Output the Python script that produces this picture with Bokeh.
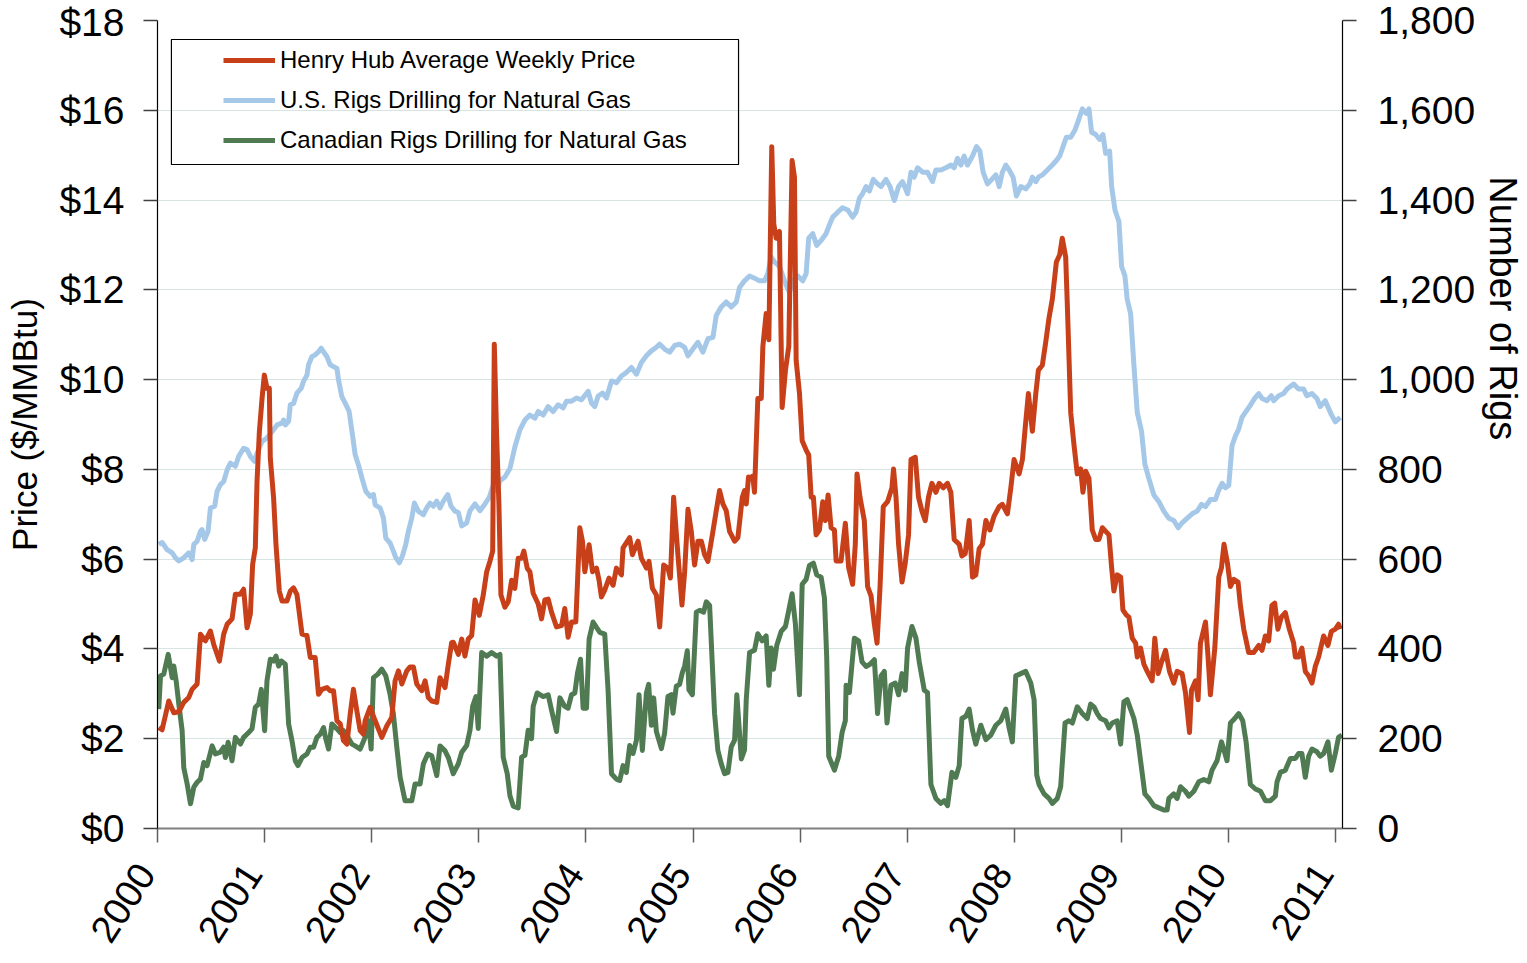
import math
from bokeh.plotting import figure
from bokeh.models import (Range1d, LinearAxis, FixedTicker, NumeralTickFormatter,
                          Legend, LegendItem, BoxAnnotation, ColumnDataSource)
from bokeh.embed import file_html
from bokeh.resources import INLINE

# ---------------- data (decimal year, value) ----------------
HENRY_HUB = [  # $/MMBtu
    (2000.012, 2.25), (2000.043, 2.20), (2000.105, 2.84), (2000.152, 2.58), (2000.199, 2.60),
    (2000.245, 2.81), (2000.292, 2.92), (2000.323, 3.10), (2000.370, 3.22), (2000.401, 4.33),
    (2000.447, 4.18), (2000.494, 4.40), (2000.525, 4.10), (2000.578, 3.73), (2000.618, 4.33),
    (2000.650, 4.55), (2000.696, 4.67), (2000.727, 5.22), (2000.774, 5.22), (2000.804, 5.33),
    (2000.836, 4.47), (2000.867, 4.78), (2000.888, 5.88), (2000.913, 6.25), (2000.929, 7.73),
    (2000.951, 8.84), (2000.976, 9.58), (2000.997, 10.10), (2001.022, 9.81), (2001.044, 9.81),
    (2001.053, 8.25), (2001.084, 7.36), (2001.106, 6.33), (2001.137, 5.29), (2001.162, 5.07),
    (2001.209, 5.07), (2001.240, 5.29), (2001.270, 5.36), (2001.302, 5.21), (2001.349, 4.33),
    (2001.395, 4.30), (2001.426, 3.81), (2001.472, 3.81), (2001.503, 2.99), (2001.535, 3.10),
    (2001.582, 3.14), (2001.612, 3.07), (2001.643, 3.07), (2001.675, 2.40), (2001.706, 2.33),
    (2001.736, 1.96), (2001.768, 1.88), (2001.799, 2.55), (2001.829, 3.10), (2001.861, 2.62),
    (2001.892, 2.18), (2001.923, 2.10), (2001.938, 2.40), (2001.985, 2.70), (2002.032, 2.40),
    (2002.094, 2.03), (2002.141, 2.29), (2002.187, 2.47), (2002.218, 3.29), (2002.249, 3.51),
    (2002.281, 3.22), (2002.327, 3.51), (2002.358, 3.60), (2002.389, 3.60), (2002.420, 3.22),
    (2002.467, 3.07), (2002.498, 3.29), (2002.528, 2.92), (2002.560, 2.84), (2002.607, 2.81),
    (2002.637, 3.36), (2002.684, 3.14), (2002.715, 3.66), (2002.746, 4.14), (2002.761, 4.15),
    (2002.808, 3.88), (2002.840, 4.22), (2002.870, 3.84), (2002.901, 4.22), (2002.933, 4.30),
    (2002.964, 5.09), (2003.004, 4.75), (2003.041, 5.20), (2003.073, 5.72), (2003.103, 5.95),
    (2003.129, 6.18), (2003.144, 10.79), (2003.166, 8.73), (2003.187, 7.23), (2003.206, 5.20),
    (2003.243, 4.93), (2003.274, 5.05), (2003.306, 5.53), (2003.336, 5.35), (2003.367, 6.02),
    (2003.399, 6.02), (2003.420, 6.18), (2003.451, 5.80), (2003.476, 5.72), (2003.507, 5.24),
    (2003.554, 5.00), (2003.585, 4.67), (2003.616, 5.09), (2003.647, 5.11), (2003.678, 4.82),
    (2003.725, 4.49), (2003.772, 4.52), (2003.802, 4.90), (2003.833, 4.26), (2003.865, 4.60),
    (2003.905, 4.60), (2003.942, 6.70), (2003.967, 6.40), (2003.989, 5.72), (2004.029, 6.32),
    (2004.061, 5.72), (2004.098, 5.80), (2004.122, 5.53), (2004.144, 5.16), (2004.175, 5.31),
    (2004.215, 5.58), (2004.253, 5.42), (2004.284, 5.80), (2004.331, 5.65), (2004.346, 6.25),
    (2004.408, 6.48), (2004.433, 6.10), (2004.486, 6.40), (2004.517, 6.02), (2004.564, 5.80),
    (2004.588, 5.95), (2004.620, 5.35), (2004.657, 5.20), (2004.688, 4.49), (2004.725, 5.87),
    (2004.765, 5.80), (2004.788, 5.58), (2004.818, 7.38), (2004.858, 6.10), (2004.896, 4.98),
    (2004.921, 5.72), (2004.952, 7.11), (2004.983, 6.62), (2005.014, 5.87), (2005.045, 6.40),
    (2005.077, 6.40), (2005.107, 6.10), (2005.138, 5.95), (2005.185, 6.62), (2005.216, 7.08),
    (2005.247, 7.53), (2005.278, 7.23), (2005.309, 7.08), (2005.340, 6.62), (2005.387, 6.40),
    (2005.418, 6.48), (2005.459, 7.38), (2005.480, 7.53), (2005.496, 7.23), (2005.517, 7.83),
    (2005.527, 7.80), (2005.557, 7.85), (2005.573, 7.49), (2005.604, 9.58), (2005.636, 9.58),
    (2005.651, 10.74), (2005.682, 11.47), (2005.707, 10.89), (2005.734, 15.19), (2005.753, 13.47),
    (2005.775, 13.15), (2005.806, 13.30), (2005.831, 9.38), (2005.862, 10.21), (2005.893, 10.74),
    (2005.924, 14.88), (2005.946, 14.51), (2005.962, 10.42), (2005.993, 9.69), (2006.018, 8.64),
    (2006.055, 8.43), (2006.079, 8.32), (2006.102, 7.38), (2006.123, 7.38), (2006.148, 6.54),
    (2006.179, 6.65), (2006.210, 7.28), (2006.235, 6.86), (2006.260, 7.43), (2006.288, 6.70),
    (2006.319, 6.65), (2006.335, 5.96), (2006.381, 5.96), (2006.421, 6.80), (2006.452, 5.81),
    (2006.489, 5.44), (2006.514, 6.33), (2006.530, 7.90), (2006.558, 7.38), (2006.598, 6.86),
    (2006.629, 5.39), (2006.661, 5.18), (2006.692, 4.55), (2006.717, 4.13), (2006.745, 5.39),
    (2006.775, 7.17), (2006.815, 7.28), (2006.856, 7.59), (2006.871, 8.01), (2006.894, 7.38),
    (2006.918, 6.33), (2006.950, 5.49), (2006.980, 5.91), (2007.011, 6.54), (2007.034, 8.22),
    (2007.074, 8.27), (2007.104, 7.38), (2007.136, 7.07), (2007.167, 6.86), (2007.197, 7.38),
    (2007.229, 7.69), (2007.266, 7.49), (2007.297, 7.69), (2007.335, 7.59), (2007.375, 7.69),
    (2007.406, 7.49), (2007.437, 6.44), (2007.484, 6.33), (2007.509, 6.07), (2007.540, 6.12),
    (2007.577, 6.86), (2007.608, 5.60), (2007.639, 5.65), (2007.670, 6.23), (2007.701, 6.33),
    (2007.733, 6.86), (2007.770, 6.65), (2007.810, 6.96), (2007.857, 7.17), (2007.887, 7.22),
    (2007.934, 7.01), (2007.966, 7.59), (2007.996, 8.22), (2008.043, 7.90), (2008.074, 8.22),
    (2008.099, 8.90), (2008.130, 9.69), (2008.167, 8.85), (2008.199, 9.69), (2008.223, 10.21),
    (2008.260, 10.32), (2008.292, 10.84), (2008.322, 11.37), (2008.353, 11.79), (2008.391, 12.62),
    (2008.422, 12.78), (2008.446, 13.15), (2008.478, 12.73), (2008.493, 11.68), (2008.525, 9.27),
    (2008.556, 8.53), (2008.586, 7.90), (2008.618, 8.01), (2008.639, 7.49), (2008.665, 7.96),
    (2008.695, 7.80), (2008.726, 6.65), (2008.758, 6.44), (2008.789, 6.44), (2008.820, 6.70),
    (2008.882, 6.54), (2008.907, 5.81), (2008.928, 5.29), (2008.959, 5.65), (2008.991, 5.60),
    (2009.012, 4.87), (2009.043, 4.76), (2009.068, 4.71), (2009.099, 4.24), (2009.131, 4.13),
    (2009.146, 3.82), (2009.177, 4.02), (2009.208, 3.66), (2009.239, 3.50), (2009.285, 3.29),
    (2009.310, 4.24), (2009.341, 3.45), (2009.373, 3.71), (2009.410, 3.97), (2009.447, 3.50),
    (2009.487, 3.24), (2009.518, 3.50), (2009.565, 3.45), (2009.596, 3.03), (2009.634, 2.14),
    (2009.652, 3.08), (2009.690, 3.29), (2009.714, 2.87), (2009.736, 4.13), (2009.783, 4.60),
    (2009.807, 3.82), (2009.829, 2.98), (2009.870, 4.02), (2009.907, 5.60), (2009.932, 5.81),
    (2009.956, 6.33), (2009.988, 5.91), (2010.016, 5.39), (2010.047, 5.55), (2010.087, 5.49),
    (2010.109, 4.97), (2010.140, 4.44), (2010.186, 3.92), (2010.233, 3.92), (2010.280, 4.08),
    (2010.311, 3.97), (2010.342, 4.29), (2010.373, 4.18), (2010.403, 4.97), (2010.429, 5.02),
    (2010.459, 4.44), (2010.491, 4.71), (2010.528, 4.81), (2010.566, 4.44), (2010.606, 4.13),
    (2010.622, 3.82), (2010.652, 3.82), (2010.683, 4.02), (2010.715, 3.50), (2010.746, 3.40),
    (2010.777, 3.24), (2010.808, 3.61), (2010.839, 3.82), (2010.886, 4.29), (2010.926, 4.08),
    (2010.958, 4.39), (2010.995, 4.44), (2011.025, 4.55), (2011.041, 4.44),
]

US_RIGS = [  # number of rigs
    (2000.012, 633), (2000.043, 637), (2000.090, 621), (2000.137, 614), (2000.168, 603),
    (2000.199, 596), (2000.245, 603), (2000.292, 614), (2000.323, 599), (2000.339, 633),
    (2000.370, 640), (2000.401, 662), (2000.416, 666), (2000.441, 644), (2000.472, 662),
    (2000.494, 714), (2000.534, 718), (2000.556, 751), (2000.587, 766), (2000.618, 773),
    (2000.650, 799), (2000.680, 814), (2000.727, 807), (2000.758, 829), (2000.804, 847),
    (2000.836, 844), (2000.867, 829), (2000.904, 818), (2000.929, 836), (2000.976, 862),
    (2001.022, 870), (2001.069, 884), (2001.116, 899), (2001.162, 903), (2001.177, 910),
    (2001.193, 899), (2001.224, 907), (2001.240, 944), (2001.270, 947), (2001.302, 970),
    (2001.342, 981), (2001.363, 996), (2001.395, 1010), (2001.410, 1033), (2001.441, 1051),
    (2001.472, 1055), (2001.503, 1062), (2001.528, 1070), (2001.550, 1062), (2001.582, 1051),
    (2001.612, 1033), (2001.643, 1029), (2001.675, 1025), (2001.690, 999), (2001.721, 962),
    (2001.759, 944), (2001.789, 929), (2001.820, 877), (2001.845, 833), (2001.876, 810),
    (2001.908, 781), (2001.945, 751), (2001.985, 740), (2002.016, 744), (2002.032, 721),
    (2002.078, 714), (2002.109, 692), (2002.131, 647), (2002.171, 636), (2002.202, 618),
    (2002.225, 603), (2002.258, 592), (2002.286, 607), (2002.318, 633), (2002.342, 662),
    (2002.374, 692), (2002.398, 725), (2002.435, 707), (2002.482, 699), (2002.513, 714),
    (2002.544, 725), (2002.575, 718), (2002.607, 729), (2002.637, 714), (2002.668, 729),
    (2002.709, 744), (2002.740, 718), (2002.777, 707), (2002.808, 704), (2002.840, 674),
    (2002.886, 681), (2002.917, 708), (2002.964, 723), (2003.010, 708), (2003.057, 723),
    (2003.097, 738), (2003.134, 764), (2003.166, 753), (2003.197, 775), (2003.243, 783),
    (2003.290, 802), (2003.336, 850), (2003.383, 888), (2003.430, 910), (2003.476, 921),
    (2003.523, 914), (2003.554, 929), (2003.600, 921), (2003.647, 940), (2003.693, 929),
    (2003.740, 944), (2003.787, 937), (2003.818, 952), (2003.865, 952), (2003.911, 959),
    (2003.958, 955), (2004.020, 974), (2004.051, 948), (2004.082, 940), (2004.113, 963),
    (2004.154, 970), (2004.191, 959), (2004.238, 997), (2004.284, 993), (2004.331, 1008),
    (2004.377, 1016), (2004.424, 1027), (2004.471, 1012), (2004.517, 1038), (2004.564, 1053),
    (2004.610, 1064), (2004.657, 1072), (2004.688, 1079), (2004.734, 1068), (2004.781, 1061),
    (2004.828, 1076), (2004.874, 1079), (2004.921, 1072), (2004.952, 1053), (2004.998, 1068),
    (2005.045, 1083), (2005.091, 1061), (2005.138, 1091), (2005.185, 1094), (2005.216, 1143),
    (2005.263, 1162), (2005.309, 1173), (2005.356, 1162), (2005.403, 1173), (2005.433, 1205),
    (2005.480, 1220), (2005.527, 1231), (2005.573, 1226), (2005.620, 1220), (2005.666, 1220),
    (2005.697, 1236), (2005.729, 1273), (2005.760, 1262), (2005.806, 1252), (2005.837, 1231),
    (2005.869, 1210), (2005.899, 1194), (2005.930, 1220), (2005.977, 1231), (2006.023, 1220),
    (2006.055, 1236), (2006.079, 1315), (2006.117, 1325), (2006.154, 1299), (2006.195, 1310),
    (2006.241, 1325), (2006.266, 1341), (2006.303, 1362), (2006.350, 1373), (2006.396, 1383),
    (2006.443, 1378), (2006.489, 1362), (2006.521, 1373), (2006.552, 1404), (2006.582, 1414),
    (2006.614, 1430), (2006.645, 1420), (2006.682, 1446), (2006.722, 1436), (2006.754, 1430),
    (2006.800, 1446), (2006.838, 1430), (2006.878, 1399), (2006.918, 1430), (2006.955, 1441),
    (2007.002, 1414), (2007.034, 1462), (2007.064, 1451), (2007.095, 1472), (2007.142, 1462),
    (2007.188, 1462), (2007.235, 1441), (2007.266, 1467), (2007.313, 1467), (2007.360, 1472),
    (2007.406, 1478), (2007.437, 1472), (2007.468, 1493), (2007.500, 1478), (2007.530, 1498),
    (2007.561, 1478), (2007.608, 1498), (2007.645, 1519), (2007.677, 1509), (2007.707, 1462),
    (2007.748, 1436), (2007.788, 1446), (2007.826, 1456), (2007.857, 1430), (2007.887, 1462),
    (2007.919, 1478), (2007.950, 1467), (2007.987, 1451), (2008.018, 1409), (2008.059, 1430),
    (2008.105, 1425), (2008.143, 1436), (2008.167, 1451), (2008.199, 1441), (2008.223, 1451),
    (2008.260, 1456), (2008.307, 1467), (2008.353, 1478), (2008.391, 1488), (2008.422, 1498),
    (2008.453, 1519), (2008.484, 1540), (2008.525, 1540), (2008.565, 1556), (2008.596, 1577),
    (2008.633, 1603), (2008.670, 1593), (2008.695, 1603), (2008.720, 1551), (2008.758, 1546),
    (2008.795, 1535), (2008.826, 1546), (2008.851, 1504), (2008.888, 1509), (2008.907, 1430),
    (2008.938, 1378), (2008.975, 1352), (2009.000, 1252), (2009.031, 1231), (2009.052, 1179),
    (2009.084, 1147), (2009.115, 1032), (2009.146, 927), (2009.186, 885), (2009.217, 812),
    (2009.254, 780), (2009.301, 743), (2009.348, 728), (2009.394, 707), (2009.441, 691),
    (2009.487, 686), (2009.528, 670), (2009.565, 681), (2009.611, 691), (2009.658, 701),
    (2009.705, 707), (2009.746, 722), (2009.783, 717), (2009.829, 733), (2009.876, 733),
    (2009.907, 754), (2009.938, 769), (2009.970, 759), (2010.000, 764), (2010.031, 853),
    (2010.062, 874), (2010.093, 890), (2010.124, 916), (2010.155, 927), (2010.202, 943),
    (2010.242, 958), (2010.280, 969), (2010.311, 958), (2010.357, 953), (2010.398, 964),
    (2010.420, 953), (2010.466, 964), (2010.513, 969), (2010.544, 979), (2010.606, 990),
    (2010.652, 979), (2010.699, 979), (2010.730, 964), (2010.777, 969), (2010.823, 958),
    (2010.854, 940), (2010.901, 953), (2010.958, 922), (2010.995, 906), (2011.041, 916),
]

CANADA_RIGS = [  # number of rigs
    (2000.012, 266), (2000.028, 340), (2000.059, 344), (2000.100, 388), (2000.121, 359),
    (2000.137, 336), (2000.152, 362), (2000.174, 329), (2000.199, 277), (2000.230, 218),
    (2000.245, 136), (2000.277, 99), (2000.308, 55), (2000.339, 92), (2000.370, 103),
    (2000.401, 110), (2000.432, 147), (2000.463, 140), (2000.510, 184), (2000.541, 166),
    (2000.587, 170), (2000.618, 181), (2000.634, 158), (2000.659, 192), (2000.696, 151),
    (2000.727, 203), (2000.774, 188), (2000.804, 203), (2000.851, 214), (2000.882, 222),
    (2000.913, 270), (2000.944, 277), (2000.969, 310), (2001.000, 218), (2001.022, 329),
    (2001.053, 377), (2001.084, 373), (2001.106, 384), (2001.131, 362), (2001.156, 373),
    (2001.193, 366), (2001.224, 233), (2001.255, 196), (2001.286, 151), (2001.311, 140),
    (2001.349, 158), (2001.395, 166), (2001.426, 181), (2001.457, 181), (2001.488, 203),
    (2001.519, 210), (2001.550, 225), (2001.572, 199), (2001.597, 177), (2001.628, 233),
    (2001.675, 222), (2001.706, 214), (2001.736, 218), (2001.768, 207), (2001.815, 188),
    (2001.845, 184), (2001.892, 177), (2001.938, 203), (2001.969, 240), (2001.994, 177),
    (2002.016, 336), (2002.057, 344), (2002.094, 355), (2002.131, 340), (2002.171, 299),
    (2002.202, 255), (2002.234, 181), (2002.265, 114), (2002.311, 62), (2002.374, 62),
    (2002.404, 99), (2002.451, 99), (2002.482, 144), (2002.523, 166), (2002.560, 162),
    (2002.607, 118), (2002.637, 184), (2002.684, 173), (2002.715, 158), (2002.761, 122),
    (2002.808, 144), (2002.840, 170), (2002.886, 185), (2002.917, 219), (2002.942, 272),
    (2002.973, 294), (2002.994, 223), (2003.026, 392), (2003.073, 384), (2003.119, 392),
    (2003.166, 384), (2003.197, 388), (2003.227, 159), (2003.265, 122), (2003.290, 73),
    (2003.321, 50), (2003.367, 46), (2003.399, 159), (2003.430, 163), (2003.460, 219),
    (2003.492, 200), (2003.507, 272), (2003.544, 302), (2003.600, 294), (2003.647, 298),
    (2003.678, 264), (2003.725, 216), (2003.756, 291), (2003.802, 272), (2003.833, 268),
    (2003.865, 298), (2003.896, 302), (2003.921, 347), (2003.949, 377), (2003.973, 268),
    (2004.005, 268), (2004.029, 422), (2004.066, 460), (2004.098, 448), (2004.129, 437),
    (2004.175, 433), (2004.206, 309), (2004.238, 122), (2004.284, 110), (2004.315, 107),
    (2004.346, 140), (2004.377, 125), (2004.408, 185), (2004.439, 167), (2004.471, 197),
    (2004.495, 298), (2004.526, 174), (2004.564, 302), (2004.585, 321), (2004.610, 230),
    (2004.632, 291), (2004.657, 216), (2004.704, 178), (2004.734, 212), (2004.765, 294),
    (2004.797, 298), (2004.812, 257), (2004.843, 317), (2004.874, 321), (2004.899, 347),
    (2004.921, 362), (2004.946, 396), (2004.961, 309), (2004.993, 298), (2005.030, 482),
    (2005.061, 486), (2005.098, 482), (2005.123, 505), (2005.154, 497), (2005.200, 257),
    (2005.231, 174), (2005.263, 144), (2005.294, 122), (2005.325, 125), (2005.356, 182),
    (2005.387, 197), (2005.408, 298), (2005.450, 155), (2005.480, 175), (2005.496, 287),
    (2005.527, 392), (2005.573, 397), (2005.604, 434), (2005.645, 418), (2005.682, 429),
    (2005.707, 319), (2005.729, 402), (2005.750, 355), (2005.781, 408), (2005.822, 439),
    (2005.862, 450), (2005.893, 486), (2005.924, 523), (2005.955, 455), (2005.993, 298),
    (2006.018, 544), (2006.055, 555), (2006.086, 586), (2006.123, 591), (2006.154, 565),
    (2006.195, 560), (2006.226, 513), (2006.247, 382), (2006.266, 161), (2006.319, 130),
    (2006.359, 161), (2006.391, 214), (2006.421, 240), (2006.428, 319), (2006.459, 303),
    (2006.505, 424), (2006.545, 418), (2006.577, 371), (2006.614, 361), (2006.651, 366),
    (2006.692, 376), (2006.722, 256), (2006.754, 340), (2006.785, 350), (2006.810, 235),
    (2006.847, 319), (2006.887, 324), (2006.918, 298), (2006.950, 345), (2006.980, 308),
    (2007.002, 402), (2007.043, 450), (2007.080, 424), (2007.111, 371), (2007.158, 308),
    (2007.188, 303), (2007.220, 98), (2007.266, 67), (2007.313, 56), (2007.344, 62),
    (2007.375, 51), (2007.416, 125), (2007.453, 114), (2007.484, 140), (2007.509, 245),
    (2007.546, 250), (2007.577, 266), (2007.608, 219), (2007.639, 188), (2007.686, 230),
    (2007.733, 198), (2007.779, 208), (2007.826, 230), (2007.872, 240), (2007.919, 266),
    (2007.950, 224), (2007.980, 193), (2008.012, 340), (2008.059, 345), (2008.105, 350),
    (2008.152, 324), (2008.183, 287), (2008.208, 119), (2008.229, 98), (2008.276, 77),
    (2008.322, 67), (2008.353, 56), (2008.400, 67), (2008.431, 93), (2008.472, 235),
    (2008.509, 240), (2008.540, 235), (2008.586, 271), (2008.633, 256), (2008.679, 245),
    (2008.711, 277), (2008.742, 271), (2008.773, 256), (2008.804, 245), (2008.851, 240),
    (2008.882, 224), (2008.912, 235), (2008.959, 240), (2008.991, 188), (2009.021, 282),
    (2009.052, 287), (2009.084, 266), (2009.115, 245), (2009.146, 208), (2009.177, 151),
    (2009.217, 77), (2009.254, 67), (2009.301, 51), (2009.348, 46), (2009.394, 41),
    (2009.425, 41), (2009.441, 67), (2009.487, 77), (2009.518, 67), (2009.550, 93),
    (2009.596, 83), (2009.627, 72), (2009.674, 83), (2009.720, 104), (2009.767, 109),
    (2009.814, 104), (2009.844, 130), (2009.891, 151), (2009.932, 193), (2009.953, 177),
    (2009.984, 151), (2010.016, 235), (2010.056, 245), (2010.093, 256), (2010.131, 240),
    (2010.162, 193), (2010.202, 98), (2010.249, 88), (2010.296, 83), (2010.342, 62),
    (2010.389, 62), (2010.435, 72), (2010.451, 104), (2010.482, 125), (2010.528, 130),
    (2010.575, 156), (2010.622, 156), (2010.652, 167), (2010.683, 167), (2010.715, 114),
    (2010.746, 161), (2010.777, 177), (2010.823, 171), (2010.854, 161), (2010.886, 167),
    (2010.926, 193), (2010.958, 130), (2010.995, 167), (2011.025, 203), (2011.056, 208),
]

SERIES_NAMES = ["Henry Hub Average Weekly Price",
                "U.S. Rigs Drilling for Natural Gas",
                "Canadian Rigs Drilling for Natural Gas"]
YEAR_TICKS = list(range(2000, 2012))
PRICE_TICKS = [0, 2, 4, 6, 8, 10, 12, 14, 16, 18]
RIG_TICKS = [0, 200, 400, 600, 800, 1000, 1200, 1400, 1600, 1800]
LEFT_TITLE = "Price ($/MMBtu)"
RIGHT_TITLE = "Number of Rigs"

# ---------------- styling / layout ----------------
FONT = "Liberation Sans"
RED = "#C8401A"
BLUE = "#A6C8E8"
GREEN = "#4F7A52"
GRID = "#D6E4E4"
LW = 5

W, H = 1527, 963
B_LEFT, B_RIGHT, B_TOP, B_BOTTOM = 157, 183, 20, 135
AXIS_Y = H - B_BOTTOM
PX_PER_DOLLAR = (AXIS_Y - B_TOP) / 18.0
# the reference's right-axis title sits above the axis centre; trailing
# no-break spaces shift the centred title upward by the same amount
RIGHT_TITLE_PAD = "\u00a0" * 22
# trailing no-break spaces slide each rotated year label down-left, so that
# the label ends just left of its tick as in the reference
YEAR_PAD = "\u00a0" * 2


def src(pairs):
    return ColumnDataSource(dict(x=[a for a, _ in pairs], y=[b for _, b in pairs]))


p = figure(width=W, height=H, output_backend="svg", toolbar_location=None,
           x_range=Range1d(2000, 2011.062), y_range=Range1d(0, 18),
           min_border_left=B_LEFT, min_border_right=B_RIGHT,
           min_border_top=B_TOP, min_border_bottom=B_BOTTOM)
p.outline_line_color = None
p.background_fill_color = "white"
p.border_fill_color = "white"
p.extra_y_ranges = {"rigs": Range1d(0, 1800)}

# lines
r_us = p.line("x", "y", source=src(US_RIGS), y_range_name="rigs",
              line_color=BLUE, line_width=LW, line_join="round")
r_ca = p.line("x", "y", source=src(CANADA_RIGS), y_range_name="rigs",
              line_color=GREEN, line_width=LW, line_join="round")
r_hh = p.line("x", "y", source=src(HENRY_HUB),
              line_color=RED, line_width=LW, line_join="round")

# grid
p.xgrid.visible = False
p.ygrid.ticker = FixedTicker(ticks=PRICE_TICKS)
p.ygrid.grid_line_color = GRID
p.ygrid.grid_line_width = 1.2

# x axis
xa = p.xaxis[0]
xa.ticker = FixedTicker(ticks=YEAR_TICKS)
xa.major_label_overrides = {t: str(t) + YEAR_PAD for t in YEAR_TICKS}
xa.major_label_orientation = math.radians(57)
xa.major_label_text_font = FONT
xa.major_label_text_font_size = "38px"
xa.major_label_text_color = "black"
xa.major_label_standoff = 7
xa.axis_line_color = "#808080"
xa.axis_line_width = 2
xa.major_tick_line_color = "#606060"
xa.major_tick_line_width = 1.5
xa.major_tick_out = 14
xa.major_tick_in = 0
xa.minor_tick_line_color = None

# left axis
ya = p.yaxis[0]
ya.ticker = FixedTicker(ticks=PRICE_TICKS)
ya.formatter = NumeralTickFormatter(format="$0")
ya.axis_label = LEFT_TITLE

# right axis
yr = LinearAxis(y_range_name="rigs", ticker=FixedTicker(ticks=RIG_TICKS),
                formatter=NumeralTickFormatter(format="0,0"),
                axis_label=RIGHT_TITLE + RIGHT_TITLE_PAD)
p.add_layout(yr, "right")

for ax, lab_size, lab_stand, tick_stand in ((ya, "35px", 12, 19), (yr, "38px", 4, 21)):
    ax.major_label_text_font = FONT
    ax.major_label_text_font_size = "39px"
    ax.major_label_text_color = "black"
    ax.major_label_standoff = tick_stand
    ax.axis_label_text_font = FONT
    ax.axis_label_text_font_size = lab_size
    ax.axis_label_text_font_style = "normal"
    ax.axis_label_text_color = "black"
    ax.axis_label_standoff = lab_stand
    ax.axis_line_color = "black"
    ax.axis_line_width = 1.2
    ax.major_tick_line_color = "#404040"
    ax.major_tick_line_width = 1.5
    ax.major_tick_out = 14
    ax.major_tick_in = 0
    ax.minor_tick_line_color = None

# legend (location measured from the frame's bottom-left corner)
legend = Legend(items=[LegendItem(label=SERIES_NAMES[0], renderers=[r_hh]),
                       LegendItem(label=SERIES_NAMES[1], renderers=[r_us]),
                       LegendItem(label=SERIES_NAMES[2], renderers=[r_ca])],
                location=(66, AXIS_Y - 158), padding=0, spacing=4,
                glyph_width=52, glyph_height=36, label_height=36, label_standoff=5,
                label_text_font=FONT, label_text_font_size="24px",
                label_text_color="black",
                border_line_alpha=0, background_fill_alpha=0)
p.add_layout(legend)

# legend frame (drawn around the legend)
p.add_layout(BoxAnnotation(left=2000.130, right=2005.424,
                           top=(AXIS_Y - 39) / PX_PER_DOLLAR,
                           bottom=(AXIS_Y - 164) / PX_PER_DOLLAR,
                           fill_color=None, fill_alpha=0, line_color="black",
                           line_width=1.2, line_alpha=1))

html = file_html(p, INLINE)
open("out.html", "w").write(html)
